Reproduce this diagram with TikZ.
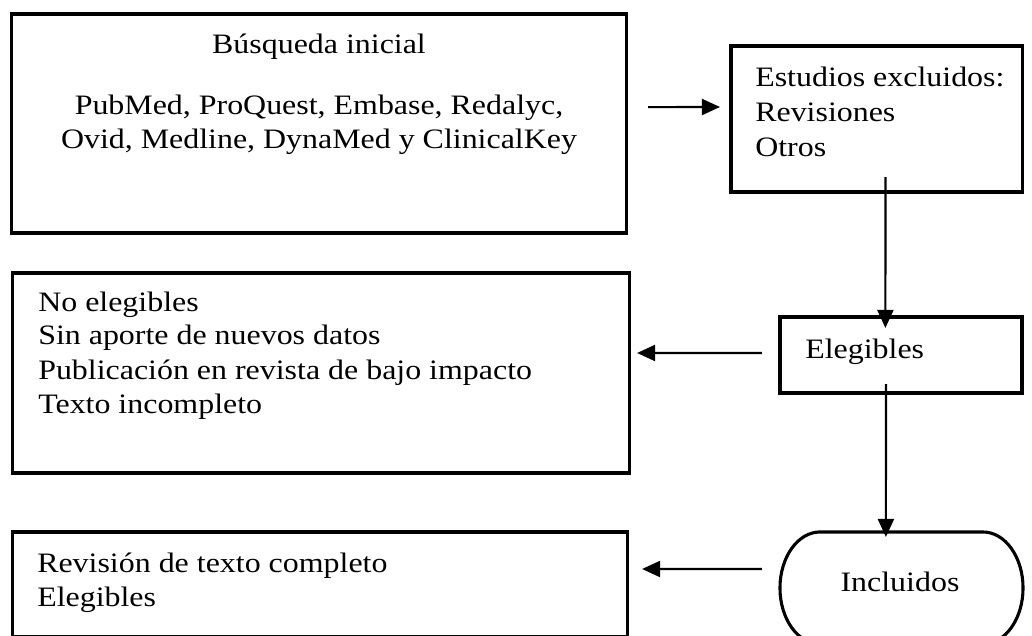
\documentclass[tikz,border=0pt]{standalone}
\usepackage{fontspec}
\setmainfont{Liberation Serif}[FakeStretch=1.135]
\usetikzlibrary{arrows.meta}

\tikzset{
  box/.style={draw=black,line width=2.2pt,inner sep=0pt,outer sep=0pt},
  txt/.style={font=\fontsize{20}{24}\selectfont,inner sep=0pt},
  arr/.style={line width=1.5pt,-{Triangle[length=0.45cm,width=0.4cm]}}
}

\begin{document}
\begin{tikzpicture}[x=0.025cm,y=-0.025cm]
  \useasboundingbox (0,0) rectangle (1032,636);
  % boxes
  \node[box,minimum width=15.35cm,minimum height=5.475cm] (busq) at (319,123.5) {};
  \node[box,minimum width=7.275cm,minimum height=3.65cm] (excl) at (876.5,119) {};
  \node[box,minimum width=15.4cm,minimum height=5cm] (noeleg) at (321,373) {};
  \node[box,minimum width=6.05cm,minimum height=1.9cm] (eleg) at (901,355) {};
  \node[box,minimum width=15.35cm,minimum height=2.625cm] (revis) at (320,584.5) {};
  \node[inner sep=0pt,outer sep=0pt,minimum width=6.075cm,minimum height=2.8cm] (incl) at (901.5,588) {};
  \draw[line width=2.2pt] ([xshift=1cm]incl.north west) -- ([xshift=-1cm]incl.north east)
        arc[start angle=90,end angle=-90,x radius=1cm,y radius=1.4cm]
        -- ([xshift=1cm]incl.south west)
        arc[start angle=270,end angle=90,x radius=1cm,y radius=1.4cm] -- cycle;
  % texts
  \node[txt,anchor=base] (b1) at (319,54) {Búsqueda inicial};
  \node[txt,anchor=base] (b2) at (319,115) {PubMed, ProQuest, Embase, Redalyc,};
  \node[txt,anchor=base] (b3) at (319,149) {Ovid, Medline, DynaMed y ClinicalKey};
  \node[txt,anchor=base west] (e1) at (755,87) {Estudios excluidos:};
  \node[txt,anchor=base west] (e2) at (755,122) {Revisiones};
  \node[txt,anchor=base west] (e3) at (755,157) {Otros};
  \node[txt,anchor=base west] (n1) at (38,311) {No elegibles};
  \node[txt,anchor=base west] (n2) at (38,345) {Sin aporte de nuevos datos};
  \node[txt,anchor=base west] (n3) at (38,379) {Publicación en revista de bajo impacto};
  \node[txt,anchor=base west] (n4) at (38,413) {Texto incompleto};
  \node[txt,anchor=base west] (g1) at (805,358) {Elegibles};
  \node[txt,anchor=base west] (r1) at (37,572) {Revisión de texto completo};
  \node[txt,anchor=base west] (r2) at (37,606) {Elegibles};
  \node[txt,anchor=base] (i1) at (900,591) {Incluidos};
  % arrows
  \draw[arr] ([xshift=0.55cm,yshift=0.41cm]busq.east) -- ([xshift=-0.275cm,yshift=0.3cm]excl.west);
  \draw[arr] ([xshift=0.225cm,yshift=0.375cm]excl.south) -- ([xshift=-0.39cm,yshift=-0.275cm]eleg.north);
  \draw[arr] ([xshift=-0.375cm,yshift=0.225cm]eleg.south) -- ([xshift=-0.39cm,yshift=-0.125cm]incl.north);
  \draw[arr] ([xshift=-0.45cm,yshift=0.05cm]eleg.west) -- ([xshift=0.2cm,yshift=0.5cm]noeleg.east);
  \draw[arr] ([xshift=-0.45cm,yshift=0.475cm]incl.west) -- ([xshift=0.375cm,yshift=0.3875cm]revis.east);
\end{tikzpicture}
\end{document}
